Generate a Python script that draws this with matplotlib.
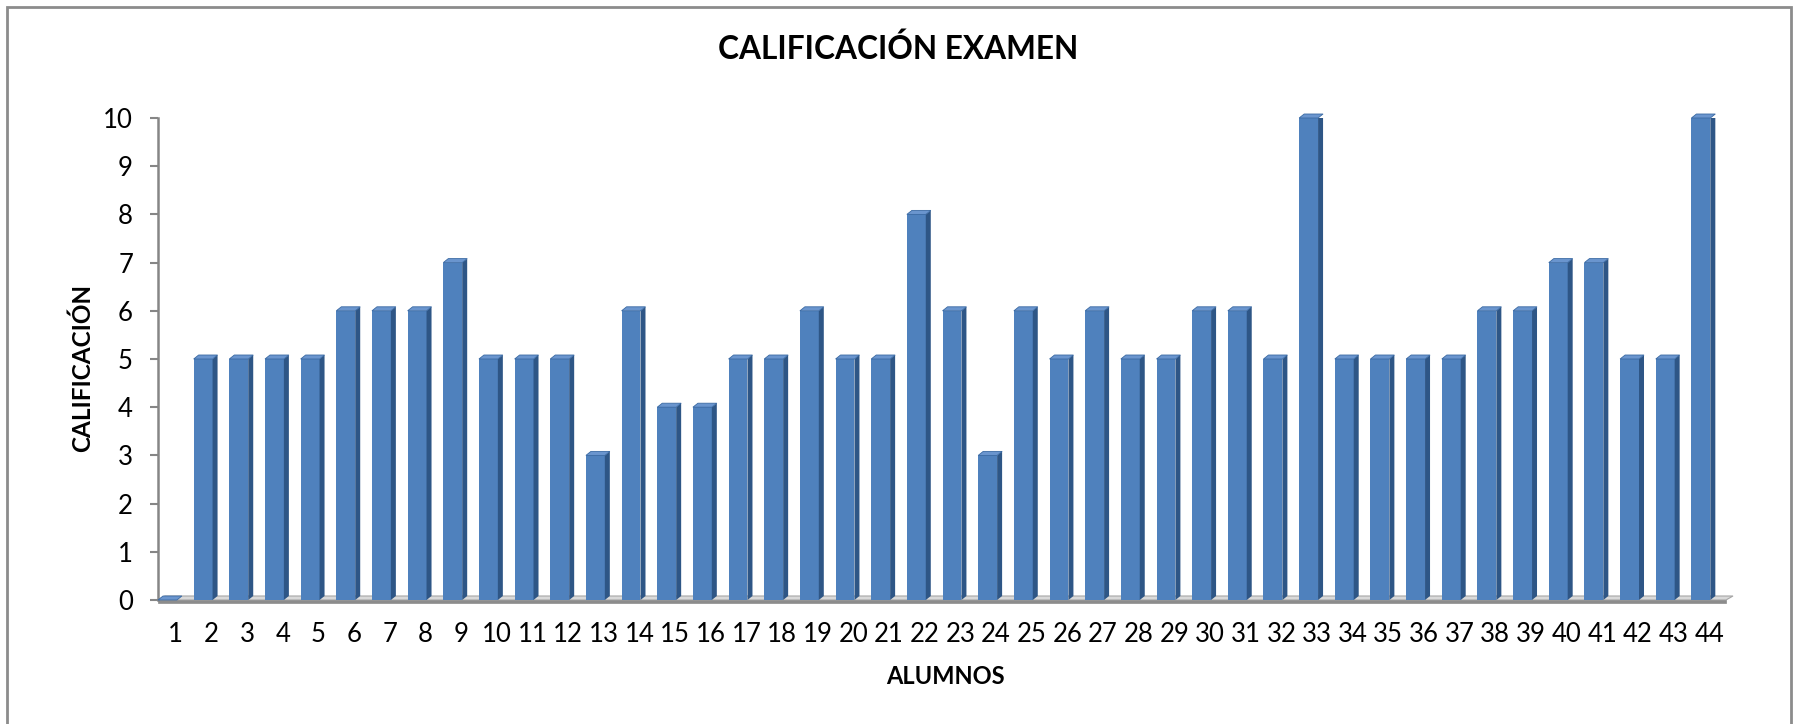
import numpy as np
import matplotlib
matplotlib.use("Agg")
import matplotlib.pyplot as plt
from matplotlib.patches import Polygon, Rectangle

# datos del gráfico
alumnos = list(range(1, 45))
calificaciones = [0, 5, 5, 5, 5, 6, 6, 6, 7, 5, 5, 5, 3, 6, 4, 4, 5, 5, 6, 5, 5, 8,
                  6, 3, 6, 5, 6, 5, 5, 6, 6, 5, 10, 5, 5, 5, 5, 6, 6, 7, 7, 5, 5, 10]
titulo = "CALIFICACIÓN EXAMEN"
etiqueta_x = "ALUMNOS"
etiqueta_y = "CALIFICACIÓN"

plt.rcParams['font.family'] = ['Lato', 'DejaVu Sans']

W, H = 1793, 724
fig = plt.figure(figsize=(W / 100, H / 100), dpi=100)

# ejes: x=0.5 en px 158, y=0 en px 600, y=10 en px 118
x_izq, x_der = 0.5, 44.75
px_x0, px_x1 = 158, 1736
px_y0, px_y1 = 600, 118
ax = fig.add_axes([px_x0 / W, (H - px_y0) / H, (px_x1 - px_x0) / W, (px_y0 - px_y1) / H])
ax.set_xlim(x_izq, x_der)
ax.set_ylim(0, 10)

# tamaño de un pixel en unidades de datos
ux = (x_der - x_izq) / (px_x1 - px_x0)
uy = 10 / (px_y0 - px_y1)
prof_x, prof_y = 5 * ux, 4 * uy

azul = '#4F81BD'
azul_lado = '#2E5686'
azul_arriba = '#6A95CE'

# piso
piso_fin = 44.47
piso_sup = [(x_izq, 0), (piso_fin, 0), (piso_fin + 7 * ux, 4 * uy), (x_izq + 7 * ux, 4 * uy)]
ax.add_patch(Polygon(piso_sup, closed=True, facecolor='#D9D9D9', edgecolor='#A6A6A6',
                     lw=0.8, clip_on=False, zorder=1))
piso_frente = [(x_izq, 0), (piso_fin, 0), (piso_fin, -2.5 * uy), (x_izq, -2.5 * uy)]
ax.add_patch(Polygon(piso_frente, closed=True, facecolor='#8C8C8C', edgecolor='#8C8C8C',
                     lw=0.5, clip_on=False, zorder=1))

# barras 3D
ancho = 0.53
for a, v in zip(alumnos, calificaciones):
    x0 = a - 0.5
    x1 = x0 + ancho
    ax.bar(x0, v, width=ancho, align='edge', color=azul, edgecolor='none', zorder=3)
    lado = [(x1, 0), (x1 + prof_x, prof_y), (x1 + prof_x, v + prof_y), (x1, v)]
    ax.add_patch(Polygon(lado, closed=True, facecolor=azul_lado, edgecolor='none', zorder=3))
    arriba = [(x0, v), (x1, v), (x1 + prof_x, v + prof_y), (x0 + prof_x, v + prof_y)]
    ax.add_patch(Polygon(arriba, closed=True, facecolor=azul_arriba, edgecolor='#3B6AA3',
                         lw=0.6, zorder=4, clip_on=False))

for s in ['top', 'right', 'bottom']:
    ax.spines[s].set_visible(False)
ax.spines['left'].set_color('#868686')
ax.spines['left'].set_linewidth(1.8)

ax.set_yticks(range(0, 11))
ax.tick_params(axis='y', length=6, width=1.5, color='#868686', pad=12, labelsize=18.5)
ax.set_xticks(alumnos)
ax.set_xticklabels([str(a) for a in alumnos])
ax.tick_params(axis='x', length=0, pad=16, labelsize=18.5)

fig.text(898 / W, 1 - 49 / H, titulo, ha='center', va='center', fontsize=22.8, fontweight='bold')
fig.text(945 / W, 1 - 676 / H, etiqueta_x, ha='center', va='center', fontsize=17, fontweight='bold')
fig.text(82 / W, 1 - 368 / H, etiqueta_y, ha='center', va='center', rotation=90,
         fontsize=17.5, fontweight='bold')

# marco del gráfico
fig.patches.append(Rectangle((7 / W, -0.02), (1791 - 7) / W, 1 - 7 / H + 0.02,
                             transform=fig.transFigure, fill=False, edgecolor='#8C8C8C', lw=2))

fig.savefig('out.png', dpi=100)
